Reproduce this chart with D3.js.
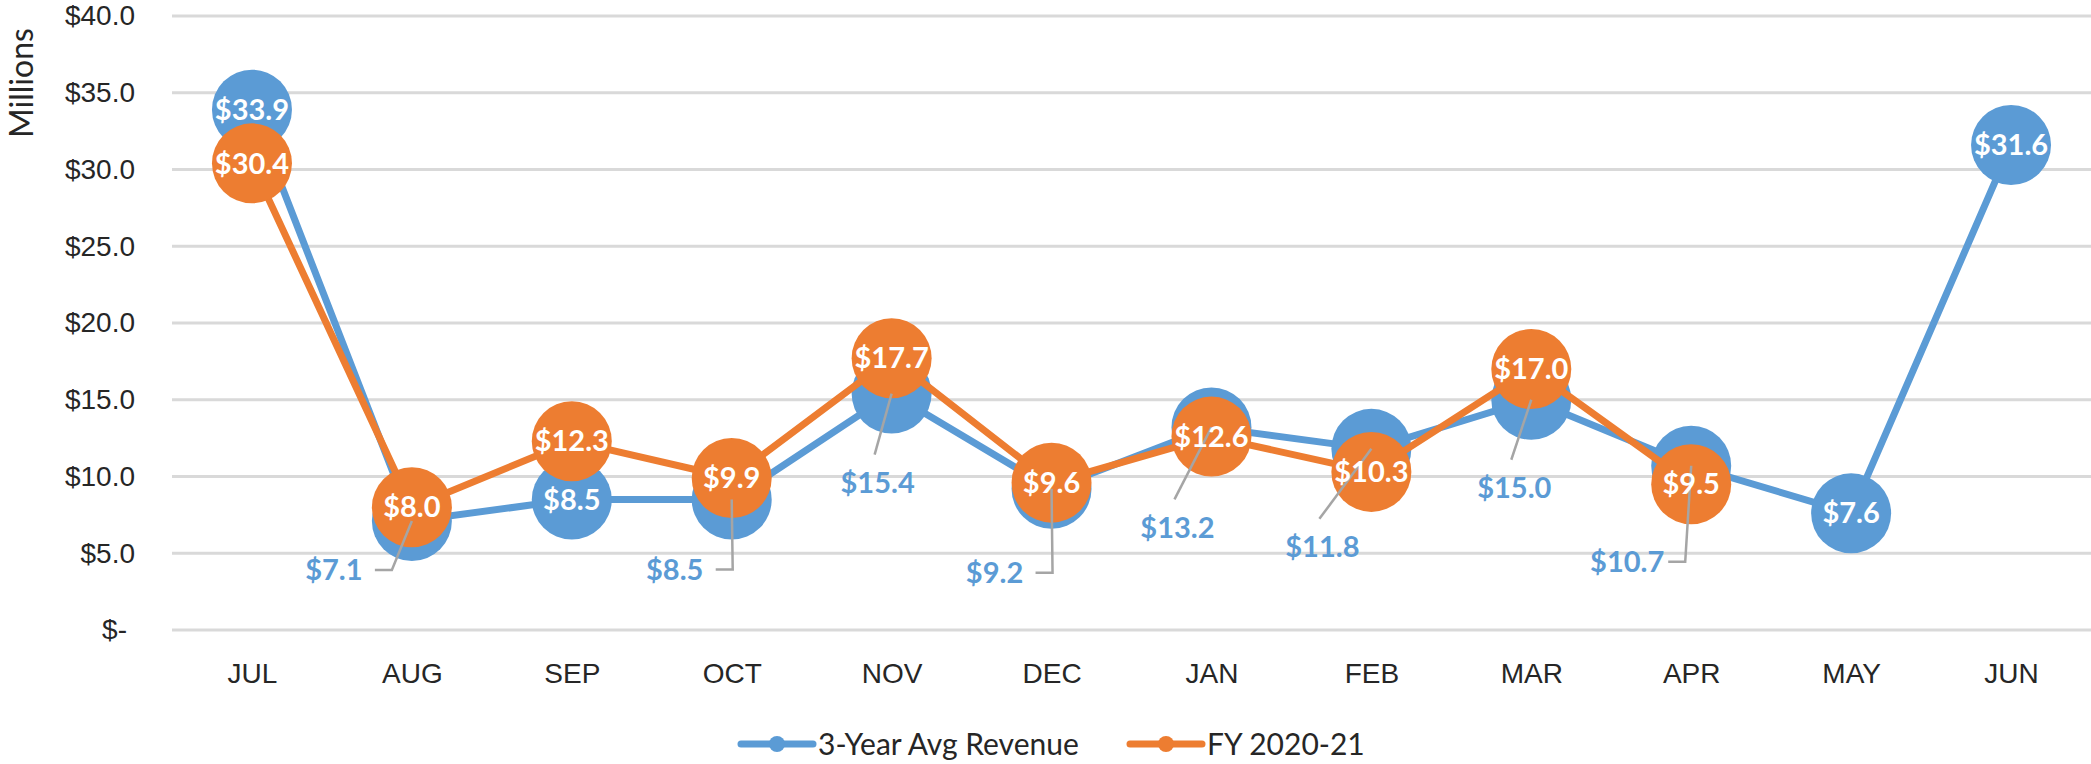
<!DOCTYPE html>
<html lang="en">
<head>
<meta charset="utf-8">
<title>3-Year Avg Revenue vs FY 2020-21</title>
<script src="https://cdn.jsdelivr.net/npm/d3@7"></script>
<style>
    body { margin: 0; background: #fff; }
    svg { display: block; font-family: Lato, "Open Sans", sans-serif; }
    .axis text { font-size: 28px; fill: #262626; }
    .grid line { stroke: #d9d9d9; stroke-width: 3; }
</style>
</head>
<body>
<script>
const months = ["JUL", "AUG", "SEP", "OCT", "NOV", "DEC", "JAN", "FEB", "MAR", "APR", "MAY", "JUN"]
const avgRevenue = [33.9, 7.1, 8.5, 8.5, 15.4, 9.2, 13.2, 11.8, 15.0, 10.7, 7.6, 31.6]
const fy2021 = [30.4, 8.0, 12.3, 9.9, 17.7, 9.6, 12.6, 10.3, 17.0, 9.5, null, null]
const yTicks = [0, 5, 10, 15, 20, 25, 30, 35, 40]
const seriesNames = ["3-Year Avg Revenue", "FY 2020-21"]

// where the blue labels sit when they are pushed outside the bubble (offset from point, leader style)
const blueLabelSpot = {
    AUG: [-78, 49, "elbow"], OCT: [-57, 70, "elbow"], NOV: [-14, 89, "diag"],
    DEC: [-57, 84, "elbow"], JAN: [-34, 100, "diag"], FEB: [-49, 98, "diag"],
    MAR: [-17, 88, "diag"], APR: [-64, 96, "elbow"]
}

const w = 2091
const h = 764
const blue = "#5b9bd5"
const orange = "#ed7d31"
const r = 40
const fmt = v => "$" + v.toFixed(1)

const svg = d3.select("body").append("svg")
    .attr("width", w)
    .attr("height", h)

const x = d3.scalePoint().domain(months).range([172, 2091]).padding(0.5)
const y = d3.scaleLinear().domain([0, 40]).range([630, 16])

// gridlines
svg.append("g").attr("class", "grid")
    .selectAll("line").data(yTicks).enter().append("line")
    .attr("x1", 172).attr("x2", w)
    .attr("y1", d => y(d)).attr("y2", d => y(d))

// y axis labels
const yAxis = d3.axisLeft(y).tickValues(yTicks).tickSize(0).tickPadding(0)
    .tickFormat(d => d === 0 ? "$-" : fmt(d))
svg.append("g").attr("class", "axis")
    .attr("transform", "translate(135,0)")
    .call(yAxis)
    .call(g => g.select(".domain").remove())
    .call(g => g.selectAll("text").filter(d => d === 0).attr("dx", -8))

// x axis labels
const xAxis = d3.axisBottom(x).tickSize(0).tickPadding(0)
svg.append("g").attr("class", "axis")
    .attr("transform", "translate(0,673)")
    .call(xAxis)
    .call(g => g.select(".domain").remove())
    .call(g => g.selectAll("text").attr("dy", "0.35em"))

svg.append("text")
    .attr("transform", "translate(22,83) rotate(-90)")
    .attr("text-anchor", "middle")
    .attr("dy", "0.35em")
    .attr("font-size", 32)
    .attr("fill", "#262626")
    .text("Millions")

const line = d3.line()
    .defined(d => d != null)
    .x((d, i) => x(months[i]))
    .y(d => y(d))

function drawSeries(values, color) {
    svg.append("path")
        .attr("d", line(values))
        .attr("fill", "none")
        .attr("stroke", color)
        .attr("stroke-width", 7)
        .attr("stroke-linejoin", "round")
    svg.append("g").selectAll("circle")
        .data(values.map((v, i) => ({ v, m: months[i] })).filter(d => d.v != null))
        .enter().append("circle")
        .attr("cx", d => x(d.m))
        .attr("cy", d => y(d.v))
        .attr("r", r)
        .attr("fill", color)
}

drawSeries(avgRevenue, blue)
drawSeries(fy2021, orange)

// leader lines for the blue labels
const blueData = avgRevenue.map((v, i) => ({ v, m: months[i] }))
const outside = blueData.filter(d => blueLabelSpot[d.m])
const leaders = svg.append("g")
outside.forEach(d => {
    const [dx, dy, kind] = blueLabelSpot[d.m]
    const px = x(d.m), py = y(d.v)
    const tx = px + dx, ty = py + dy
    let pts
    if (kind === "elbow") {
        const right = tx + 29
        pts = [[right + 12, ty], [right + 29, ty], [px, py]]
    } else {
        pts = [[tx - 3, ty - 28], [px, py]]
    }
    leaders.append("path")
        .attr("d", d3.line()(pts))
        .attr("fill", "none")
        .attr("stroke", "#a5a5a5")
        .attr("stroke-width", 2.5)
})

// labels
const labels = svg.append("g")
    .attr("font-size", 29)
    .attr("font-weight", "bold")
    .attr("text-anchor", "middle")

labels.selectAll("text.blue").data(blueData).enter().append("text")
    .attr("x", d => x(d.m) + (blueLabelSpot[d.m] ? blueLabelSpot[d.m][0] : 0))
    .attr("y", d => y(d.v) + (blueLabelSpot[d.m] ? blueLabelSpot[d.m][1] : 0))
    .attr("dy", "0.35em")
    .attr("fill", d => blueLabelSpot[d.m] ? blue : "#fff")
    .text(d => fmt(d.v))

labels.selectAll("text.orange")
    .data(fy2021.map((v, i) => ({ v, m: months[i] })).filter(d => d.v != null))
    .enter().append("text")
    .attr("x", d => x(d.m))
    .attr("y", d => y(d.v))
    .attr("dy", "0.35em")
    .attr("fill", "#fff")
    .text(d => fmt(d.v))

// legend
const legendX = [741, 1130]
const legend = svg.append("g")
seriesNames.forEach((name, i) => {
    const color = i === 0 ? blue : orange
    const g = legend.append("g").attr("transform", `translate(${legendX[i]},744)`)
    g.append("line").attr("x1", 0).attr("x2", 72)
        .attr("stroke", color).attr("stroke-width", 7).attr("stroke-linecap", "round")
    g.append("circle").attr("cx", 36).attr("r", 8).attr("fill", color)
    g.append("text").attr("x", 77).attr("dy", "0.35em")
        .attr("font-size", 30).attr("fill", "#262626")
        .text(name)
})
</script>
</body>
</html>
